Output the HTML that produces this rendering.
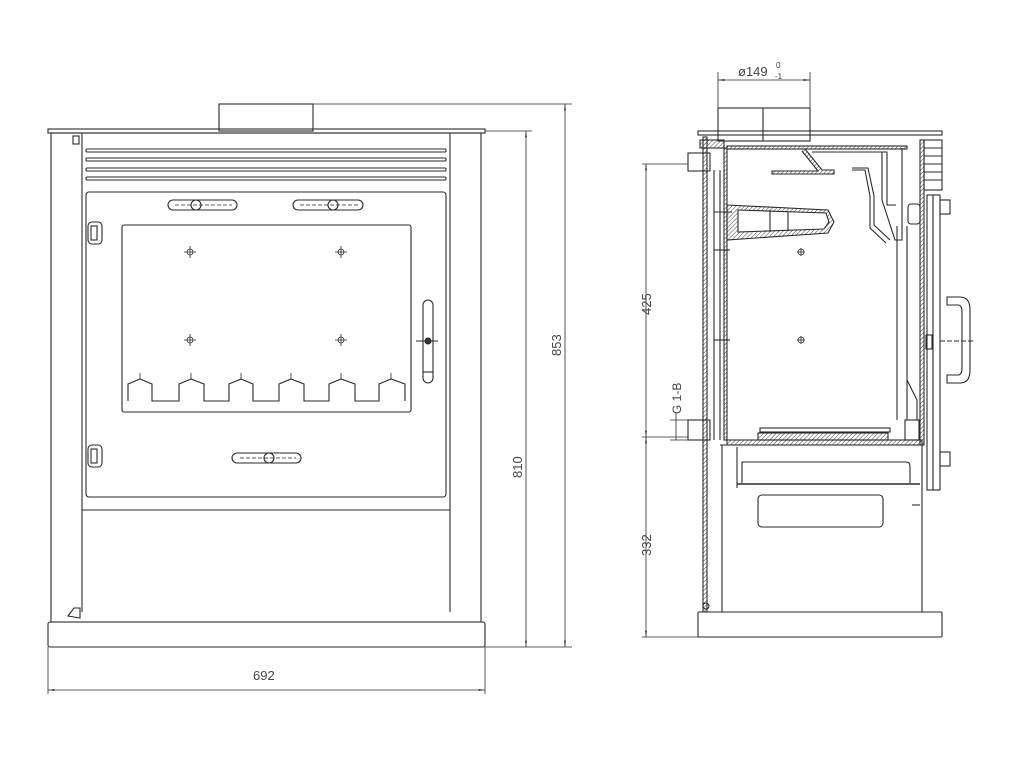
<!DOCTYPE html>
<html><head><meta charset="utf-8"><style>
html,body{margin:0;padding:0;background:#fff;}
svg{display:block;}
text{font-family:"Liberation Sans",sans-serif;fill:#444;}
</style></head><body>
<svg width="1024" height="768" viewBox="0 0 1024 768" xmlns="http://www.w3.org/2000/svg">
<defs>
<pattern id="h" width="3" height="3" patternUnits="userSpaceOnUse" patternTransform="rotate(45)"><line x1="0" y1="0" x2="0" y2="3" stroke="#444" stroke-width="1"/></pattern>
<marker id="a" viewBox="0 0 10 10" refX="10" refY="5" markerWidth="8" markerHeight="8" orient="auto-start-reverse"><path d="M0 3.5 L10 5 L0 6.5 Z" fill="#333"/></marker>
</defs>
<g fill="none" stroke="#2a2a2a" stroke-width="1.1">
<!-- FRONT VIEW -->
<rect x="219" y="104" width="94" height="27"/>
<line x1="313" y1="104" x2="572" y2="104" stroke-width="0.8"/>
<rect x="48" y="129" width="437" height="4"/>
<line x1="485" y1="131" x2="532" y2="131" stroke-width="0.8"/>
<rect x="51" y="133" width="430" height="489"/>
<line x1="82" y1="133" x2="82" y2="612"/>
<line x1="450" y1="133" x2="450" y2="612"/>
<rect x="86" y="149" width="360" height="3" rx="1"/>
<rect x="86" y="158" width="360" height="3" rx="1"/>
<rect x="86" y="168" width="360" height="3" rx="1"/>
<rect x="86" y="177" width="360" height="3" rx="1"/>
<rect x="86" y="192" width="360" height="305" rx="3"/>
<rect x="122" y="225" width="289" height="187" rx="2"/>
<line x1="82" y1="510" x2="450" y2="510"/>
<rect x="48" y="622" width="437" height="25" rx="2"/>
<!-- handles -->
<rect x="168" y="200" width="69" height="10" rx="5"/>
<circle cx="196" cy="205" r="5"/>
<line x1="175" y1="205" x2="232" y2="205" stroke-dasharray="4 2" stroke-width="0.7"/>
<rect x="293" y="200" width="70" height="10" rx="5"/>
<circle cx="333" cy="205" r="5"/>
<line x1="300" y1="205" x2="358" y2="205" stroke-dasharray="4 2" stroke-width="0.7"/>
<rect x="232" y="453" width="69" height="10" rx="5"/>
<circle cx="269" cy="458" r="5"/>
<line x1="240" y1="458" x2="296" y2="458" stroke-dasharray="4 2" stroke-width="0.7"/>
<rect x="423" y="300" width="10" height="83" rx="5"/>
<line x1="416" y1="341" x2="438" y2="341"/>
<circle cx="428" cy="341" r="3" fill="#333"/>
<line x1="423" y1="372" x2="433" y2="372"/>
<!-- hinges -->
<rect x="88" y="222" width="14" height="22" rx="4"/>
<rect x="91" y="226" width="6" height="14"/>
<rect x="88" y="445" width="14" height="22" rx="4"/>
<rect x="91" y="449" width="6" height="14"/>
<path d="M68 616 L74 608 L80 608 L80 618 Z"/>
<rect x="73" y="136" width="6" height="8"/>
<!-- crosshairs -->
<g stroke-width="0.8">
<circle cx="190" cy="252" r="3"/><path d="M184 252h12M190 246v12"/>
<circle cx="341" cy="252" r="3"/><path d="M335 252h12M341 246v12"/>
<circle cx="190" cy="340" r="3"/><path d="M184 340h12M190 334v12"/>
<circle cx="341" cy="340" r="3"/><path d="M335 340h12M341 334v12"/>
</g>
<!-- grate teeth -->
<path d="M128 401 V384 L140 379 L152 384 V401 H179 V384 L191 379 L204 384 V401 H229 V384 L241 379 L253 384 V401 H279 V384 L291 379 L304 384 V401 H329 V384 L341 379 L355 384 V401 H379 V384 L391 379 L405 384 V401"/>
<path d="M140 379v-6M191 379v-6M241 379v-6M291 379v-6M341 379v-6M391 379v-6" stroke-width="0.8"/>
<!-- dimensions front -->
<g stroke-width="0.8">
<line x1="48" y1="647" x2="48" y2="694"/>
<line x1="485" y1="647" x2="485" y2="694"/>
<line x1="48" y1="690" x2="485" y2="690" marker-start="url(#a)" marker-end="url(#a)"/>
<line x1="485" y1="647" x2="572" y2="647"/>
<line x1="526" y1="131" x2="526" y2="647" marker-start="url(#a)" marker-end="url(#a)"/>
<line x1="565" y1="104" x2="565" y2="647" marker-start="url(#a)" marker-end="url(#a)"/>
</g>
<!-- SIDE VIEW -->
<rect x="718" y="108" width="92" height="33"/>
<line x1="763" y1="108" x2="763" y2="141"/>
<line x1="718" y1="72" x2="718" y2="108" stroke-width="0.8"/>
<line x1="810" y1="72" x2="810" y2="108" stroke-width="0.8"/>
<line x1="718" y1="80" x2="810" y2="80" stroke-width="0.8" marker-start="url(#a)" marker-end="url(#a)"/>
<rect x="698" y="131" width="244" height="4"/>
<rect x="703" y="137" width="4" height="475" fill="url(#h)"/>
<rect x="700" y="140" width="24" height="8" fill="url(#h)"/>
<rect x="724" y="148" width="3" height="292" fill="url(#h)"/>
<rect x="727" y="146" width="180" height="3" fill="url(#h)"/>
<rect x="688" y="153" width="22" height="18"/>
<rect x="688" y="420" width="22" height="20"/>
<line x1="714" y1="170" x2="714" y2="440"/>
<line x1="720" y1="170" x2="720" y2="440"/>
<line x1="714" y1="212" x2="732" y2="212"/><line x1="714" y1="250" x2="730" y2="250"/><line x1="714" y1="340" x2="730" y2="340"/>
<!-- baffles -->
<path d="M805 149 L822 170 L834 170 L834 174 L772 174 L772 171 L818 171 L802 151" fill="url(#h)"/>
<path d="M838 152 L887 152 L887 205 L896 205" />
<path d="M812 152 L882 152 L882 200 L895 240 L902 240 L902 148"/>
<path d="M852 168 L868 168 L874 196 L874 225 L890 240 M852 170 L865 170 L870 196 L870 228 L886 243"/>
<path d="M727 205 L828 210 L834 222 L828 233 L727 240 Z" fill="url(#h)"/>
<path d="M738 210 L826 213 L829 222 L824 229 L738 232 Z" fill="#fff"/>
<line x1="770" y1="210" x2="770" y2="232"/><line x1="788" y1="212" x2="788" y2="231"/>
<circle cx="801" cy="252" r="3" stroke-width="0.8"/><path d="M797 252h8M801 248v8" stroke-width="0.8"/>
<circle cx="801" cy="340" r="3" stroke-width="0.8"/><path d="M797 340h8M801 336v8" stroke-width="0.8"/>
<line x1="897" y1="226" x2="897" y2="420"/><line x1="907" y1="226" x2="907" y2="420"/>
<rect x="908" y="204" width="12" height="20" rx="3"/>
<!-- front door section -->
<rect x="920" y="140" width="4" height="305" fill="url(#h)"/>
<line x1="922" y1="445" x2="922" y2="612"/>
<rect x="924" y="140" width="18" height="50"/>
<path d="M924 148h18M924 156h18M924 164h18M924 172h18M924 180h18"/>
<rect x="927" y="195" width="13" height="295"/>
<line x1="933" y1="195" x2="933" y2="490"/>
<rect x="940" y="200" width="10" height="14"/>
<rect x="940" y="452" width="10" height="14"/>
<path d="M947 297 H960 Q970 297 970 310 V370 Q970 383 960 383 H947 V375 H958 Q962 375 962 368 V312 Q962 305 958 305 H947 Z"/>
<line x1="940" y1="341" x2="975" y2="341" stroke-dasharray="5 2"/>
<rect x="926" y="335" width="6" height="14"/>
<path d="M907 380 L917 400 L917 420"/>
<rect x="905" y="420" width="14" height="20"/>
<!-- grate -->
<rect x="760" y="428" width="130" height="4"/>
<rect x="758" y="433" width="130" height="7" fill="url(#h)"/>
<rect x="727" y="440" width="195" height="5" fill="url(#h)"/>
<line x1="720" y1="445" x2="920" y2="445"/>
<!-- lower body -->
<line x1="722" y1="445" x2="722" y2="612"/>
<line x1="737" y1="447" x2="737" y2="488"/>
<path d="M742 483 V462 H906 Q910 462 910 466 V483"/>
<line x1="737" y1="484" x2="920" y2="484" stroke-width="1.6"/>
<rect x="758" y="495" width="125" height="32" rx="4"/>
<line x1="912" y1="505" x2="920" y2="505"/>
<rect x="698" y="612" width="244" height="25" rx="1"/>
<circle cx="706" cy="606" r="3"/>
<!-- side dims -->
<g stroke-width="0.8">
<line x1="642" y1="164" x2="688" y2="164"/>
<line x1="642" y1="437" x2="688" y2="437"/>
<line x1="642" y1="637" x2="698" y2="637"/>
<line x1="646" y1="164" x2="646" y2="437" marker-start="url(#a)" marker-end="url(#a)"/>
<line x1="646" y1="437" x2="646" y2="637" marker-start="url(#a)" marker-end="url(#a)"/>
<line x1="676" y1="413" x2="676" y2="440"/>
<line x1="670" y1="420" x2="688" y2="420"/>
<line x1="670" y1="440" x2="688" y2="440"/>
</g>
</g>
<g font-size="13">
<text x="253" y="680">692</text>
<text transform="translate(522,478) rotate(-90)">810</text>
<text transform="translate(561,356) rotate(-90)">853</text>
<text x="738" y="76">ø149</text>
<text x="776" y="68" font-size="8">0</text>
<text x="775" y="79" font-size="8">-1</text>
<text transform="translate(651,315) rotate(-90)">425</text>
<text transform="translate(651,556) rotate(-90)">332</text>
<text transform="translate(681,414) rotate(-90)" font-size="12">G 1-B</text>
</g>
</svg>
</body></html>
